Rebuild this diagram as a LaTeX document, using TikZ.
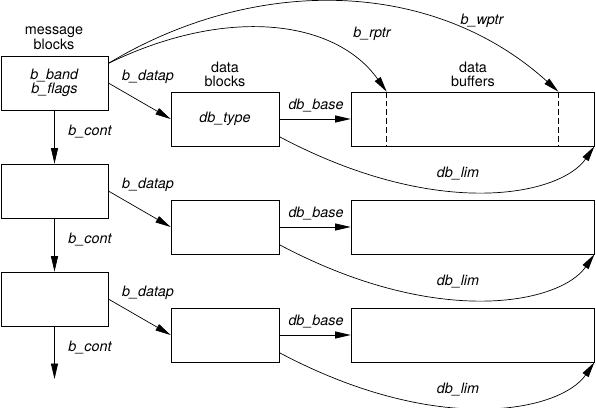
\documentclass[tikz,border=0pt]{standalone}
\usepackage{fontspec}
\setmainfont{TeX Gyre Heros}
\usepackage{xcolor}
\usepackage{tikz}
\usetikzlibrary{arrows.meta,positioning,calc}

\begin{document}
\begin{tikzpicture}[
    font=\fontsize{10.2}{10}\selectfont,
    line width=0.5pt,
    msgbox/.style={rectangle,draw,minimum width=2.675cm,minimum height=1.35cm,inner sep=0pt,align=center},
    datbox/.style={rectangle,draw,minimum width=2.7cm,minimum height=1.35cm,inner sep=0pt},
    bufbox/.style={rectangle,draw,minimum width=6.075cm,minimum height=1.35cm,inner sep=0pt},
    hd/.style={align=center,inner sep=0pt},
    fld/.style={font=\fontsize{10.2}{10}\selectfont\itshape,inner sep=0pt},
    ptr/.style={-{Triangle[length=11pt,width=5pt]}}
]
    \useasboundingbox (0,0) rectangle (14.9,-10.2);

    % 标题
    \node[hd] (msghd) at (1.35,-0.956) {message\\blocks};
    \node[hd] (dathd) at (5.625,-1.85) {data\\blocks};
    \node[hd] (bufhd) at (11.825,-1.85) {data\\buffers};

    % 消息块
    \node[msgbox] (msg1) at (1.3625,-2.075) {\textit{b\_band}\\\textit{b\_flags}};
    \node[msgbox] (msg2) at (1.3625,-4.775) {};
    \node[msgbox] (msg3) at (1.3625,-7.475) {};
    \coordinate (tail) at (1.3625,-9.475);

    % 数据块
    \node[datbox] (dat1) at (5.625,-2.975) {\textit{db\_type}};
    \node[datbox] (dat2) at (5.625,-5.675) {};
    \node[datbox] (dat3) at (5.625,-8.375) {};

    % 数据缓冲区
    \node[bufbox] (buf1) at (11.8125,-2.975) {};
    \node[bufbox] (buf2) at (11.8125,-5.675) {};
    \node[bufbox] (buf3) at (11.8125,-8.375) {};
    \coordinate (rp) at ($(buf1.north west)+(0.9,0)$);
    \coordinate (wp) at ($(buf1.north east)+(-0.9,0)$);
    \draw[dash pattern=on 4.2pt off 2.1pt] (rp) -- ($(buf1.south west)+(0.9,0)$);
    \draw[dash pattern=on 4.2pt off 2.1pt] (wp) -- ($(buf1.south east)+(-0.9,0)$);

    % 连线
    \draw[ptr] (msg1) -- (msg2);
    \draw[ptr] (msg2) -- (msg3);
    \draw[ptr] (msg3) -- (tail);
    \draw[ptr] (msg1.east) -- (dat1.west);
    \draw[ptr] (msg2.east) -- (dat2.west);
    \draw[ptr] (msg3.east) -- (dat3.west);
    \draw[ptr] (dat1) -- (buf1);
    \draw[ptr] (dat2) -- (buf2);
    \draw[ptr] (dat3) -- (buf3);
    \draw[ptr] (dat1.-18.4) .. controls +(3.975,-2.1125) and +(-0.85,-1.225) .. (buf1.south east);
    \draw[ptr] (dat2.-18.4) .. controls +(3.975,-2.1125) and +(-0.85,-1.225) .. (buf2.south east);
    \draw[ptr] (dat3.-18.4) .. controls +(3.975,-2.1125) and +(-0.85,-1.225) .. (buf3.south east);
    \draw[ptr] (msg1.20.5) .. controls +(2.925,1.425) and +(-1.3,1.825) .. (rp);
    \draw[ptr] (msg1.20.5) .. controls +(3.65,2.2) and +(-3.15,2.85) .. (wp);

    % 指针标记
    \node[fld] (cont1) at (2.25,-3.29) {b\_cont};
    \node[fld] (cont2) at (2.25,-6.0) {b\_cont};
    \node[fld] (cont3) at (2.25,-8.7) {b\_cont};
    \node[fld] (datap1) at (3.7,-1.925) {b\_datap};
    \node[fld] (datap2) at (3.7,-4.625) {b\_datap};
    \node[fld] (datap3) at (3.7,-7.325) {b\_datap};
    \node[fld] (base1) at (7.9,-2.6375) {db\_base};
    \node[fld] (base2) at (7.9,-5.3375) {db\_base};
    \node[fld] (base3) at (7.9,-8.0375) {db\_base};
    \node[fld] (lim1) at (11.45,-4.35) {db\_lim};
    \node[fld] (lim2) at (11.45,-7.05) {db\_lim};
    \node[fld] (lim3) at (11.45,-9.75) {db\_lim};
    \node[fld] (rptr) at (9.3,-0.85) {b\_rptr};
    \node[fld] (wptr) at (12.05,-0.525) {b\_wptr};
\end{tikzpicture}
\end{document}
